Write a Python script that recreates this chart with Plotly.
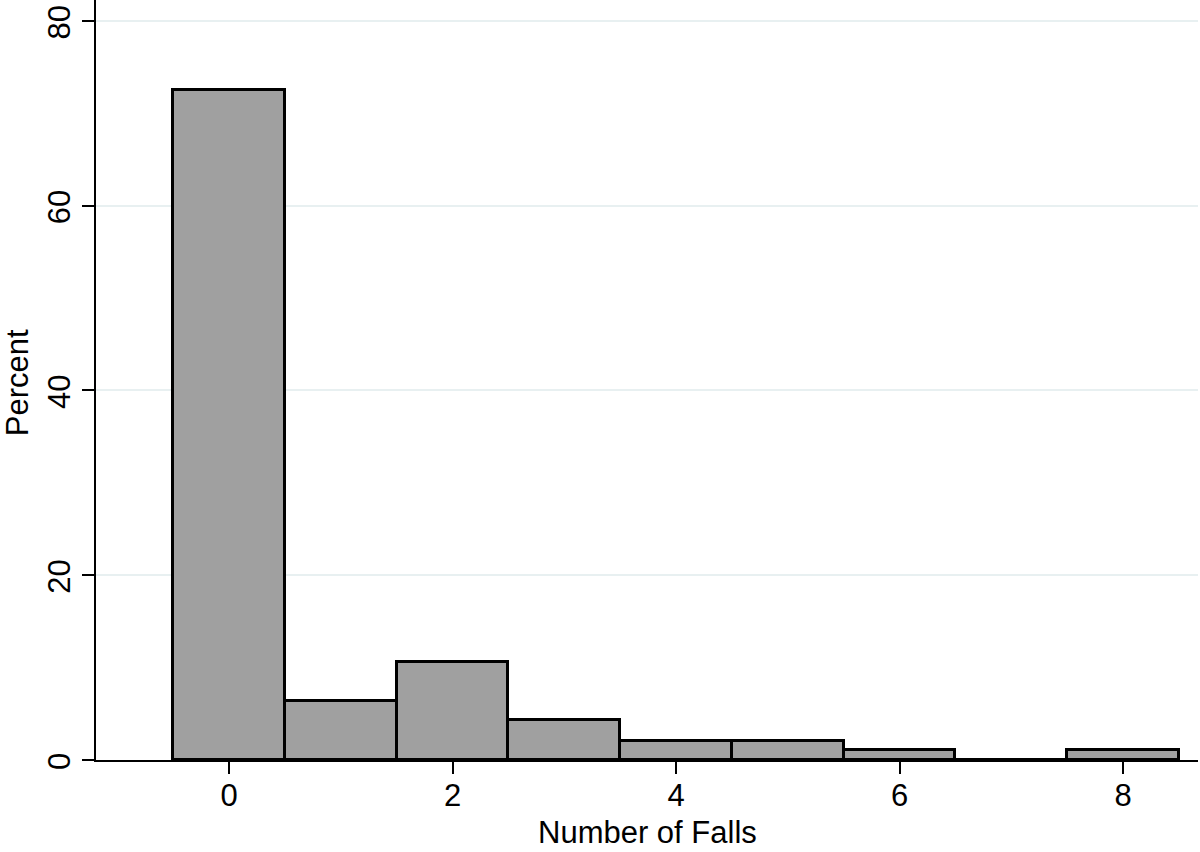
import plotly.graph_objects as go

falls = [0, 1, 2, 3, 4, 5, 6, 7, 8]
percent = [72.5, 6.4, 10.6, 4.3, 2.1, 2.1, 1.1, 0, 1.1]
x_ticks = [0, 2, 4, 6, 8]
y_ticks = [0, 20, 40, 60, 80]

FAMILY = "Liberation Sans, Arial, sans-serif"
TICK_FONT = dict(family=FAMILY, size=31, color="black")
TITLE_FONT = dict(family=FAMILY, size=31, color="black")

fig = go.Figure(
    go.Bar(
        x=falls,
        y=percent,
        width=1,
        marker=dict(color="#a0a0a0", line=dict(color="black", width=3)),
    )
)

fig.update_layout(
    width=1200,
    height=852,
    margin=dict(l=96, r=2, t=0, b=92),
    paper_bgcolor="white",
    plot_bgcolor="white",
    font=TICK_FONT,
    showlegend=False,
    bargap=0,
    xaxis=dict(
        range=[-1.19, 8.67],
        tickvals=x_ticks,
        tickfont=TICK_FONT,
        ticks="outside",
        ticklen=12,
        tickwidth=1.5,
        tickcolor="black",
        ticklabelstandoff=-5,
        showline=True,
        linecolor="black",
        linewidth=1.5,
        showgrid=False,
        zeroline=False,
        automargin=False,
    ),
    yaxis=dict(
        range=[0, 82.27],
        tickvals=y_ticks,
        tickangle=-90,
        tickfont=TICK_FONT,
        ticklabeloverflow="allow",
        ticklabelshift=6,
        ticks="outside",
        ticklen=12,
        tickwidth=1.5,
        tickcolor="black",
        showline=True,
        linecolor="black",
        linewidth=1.5,
        showgrid=True,
        gridcolor="#e8f0f1",
        gridwidth=2,
        zeroline=False,
        automargin=False,
    ),
    annotations=[
        # axis titles placed by hand, as in the Stata original
        dict(text="Number of Falls", xref="paper", yref="paper",
             x=0.5005, y=-0.121, xanchor="center", yanchor="bottom",
             showarrow=False, font=TITLE_FONT),
        dict(text="Percent", xref="paper", yref="paper",
             x=-0.0717, y=0.497, xanchor="center", yanchor="middle",
             textangle=-90, showarrow=False, font=TITLE_FONT),
    ],
)

# drop the default 8px page margin so the figure fills the window
fig.write_html(
    "out.html",
    config={"displayModeBar": False},
    post_script="document.body.style.margin='0';",
)
